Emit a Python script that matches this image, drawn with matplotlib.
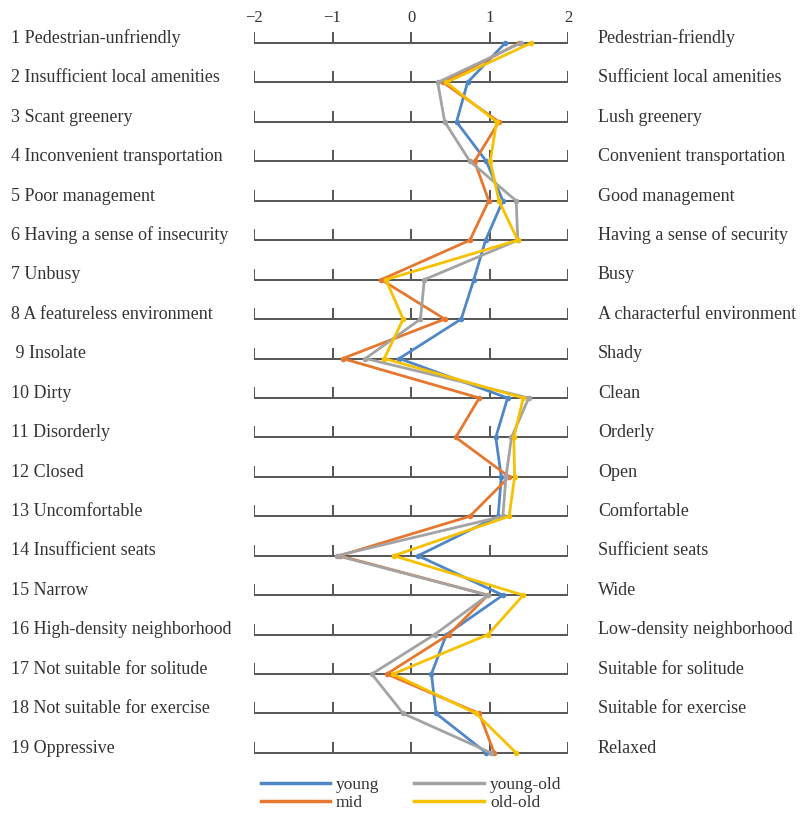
import matplotlib
matplotlib.use("Agg")
import matplotlib.pyplot as plt
from matplotlib.lines import Line2D
from matplotlib.transforms import blended_transform_factory

left_labels = [
    "1 Pedestrian-unfriendly", "2 Insufficient local amenities", "3 Scant greenery",
    "4 Inconvenient transportation", "5 Poor management", "6 Having a sense of insecurity",
    "7 Unbusy", "8 A featureless environment", " 9 Insolate", "10 Dirty",
    "11 Disorderly", "12 Closed", "13 Uncomfortable", "14 Insufficient seats",
    "15 Narrow", "16 High-density neighborhood", "17 Not suitable for solitude",
    "18 Not suitable for exercise", "19 Oppressive",
]
right_labels = [
    "Pedestrian-friendly", "Sufficient local amenities", "Lush greenery",
    "Convenient transportation", "Good management", "Having a sense of security",
    "Busy", "A characterful environment", "Shady", "Clean", "Orderly", "Open",
    "Comfortable", "Sufficient seats", "Wide", "Low-density neighborhood",
    "Suitable for solitude", "Suitable for exercise", "Relaxed",
]

young = [1.20, 0.72, 0.58, 0.96, 1.17, 0.95, 0.80, 0.64, -0.15, 1.23,
         1.08, 1.15, 1.11, 0.09, 1.17, 0.45, 0.26, 0.32, 0.96]
mid = [1.38, 0.41, 1.12, 0.81, 0.99, 0.75, -0.38, 0.43, -0.87, 0.87,
       0.57, 1.25, 0.75, -0.91, 0.98, 0.48, -0.31, 0.87, 1.06]
young_old = [1.40, 0.34, 0.43, 0.75, 1.34, 1.36, 0.17, 0.12, -0.58, 1.50,
             1.28, 1.21, 1.17, -0.94, 0.98, 0.30, -0.50, -0.10, 1.02]
old_old = [1.53, 0.45, 1.09, 1.01, 1.12, 1.36, -0.32, -0.10, -0.34, 1.43,
           1.31, 1.32, 1.25, -0.22, 1.43, 0.98, -0.23, 0.83, 1.34]

series = [
    ("young", young, "#4F87C6"),
    ("mid", mid, "#E5772E"),
    ("young-old", young_old, "#A3A3A3"),
    ("old-old", old_old, "#F6C100"),
]
ticks = [-2, -1, 0, 1, 2]
tick_labels = ["\u22122", "\u22121", "0", "1", "2"]

W, H = 808, 815
fig = plt.figure(figsize=(W / 100, H / 100), dpi=100)
plt.rcParams["font.family"] = ["Liberation Serif", "DejaVu Serif"]
text_col = "#333333"

n = len(left_labels)
row0, step = 43, 39.44
pad = 20 / step
top_px = row0 - 20
bot_px = row0 + step * (n - 1) + 20
x0_px, x1_px = 254, 568
ax = fig.add_axes([x0_px / W, 1 - bot_px / H, (x1_px - x0_px) / W, (bot_px - top_px) / H])
ax.set_xlim(-2, 2)
ax.set_ylim(n - 1 + pad, -pad)
for s in ax.spines.values():
    s.set_visible(False)
ax.set_yticks([])
ax.xaxis.tick_top()
ax.set_xticks(ticks)
ax.set_xticklabels(tick_labels, fontsize=12, color=text_col)
ax.tick_params(axis="x", length=0, pad=-2)

rows = list(range(n))
tick_h = 11 / step
ax.hlines(rows, -2, 2, color="#555555", lw=1.4, zorder=1)
for r in rows:
    ax.vlines(ticks, r - tick_h, r, color="#555555", lw=1.4, zorder=1)

for name, vals, col in series:
    ax.plot(vals, rows, color=col, lw=2, marker="o", ms=3, zorder=3)

trans_l = blended_transform_factory(fig.transFigure, ax.transData)
for r, (lt, rt) in enumerate(zip(left_labels, right_labels)):
    ax.text(11 / W, r - 0.12, lt, transform=trans_l, ha="left", va="center",
            fontsize=13, color=text_col)
    ax.text(598 / W, r - 0.12, rt, transform=trans_l, ha="left", va="center",
            fontsize=13, color=text_col)

handles = [Line2D([], [], color=c, lw=2.5) for _, _, c in series]
names = [s[0] for s in series]
fig.legend(handles, names, ncol=2, loc="center", bbox_to_anchor=(411 / W, 1 - 794 / H),
           frameon=False, fontsize=12.5, handlelength=4.0, columnspacing=2.0,
           labelspacing=0.15, handletextpad=0.35, labelcolor=text_col)

fig.savefig("out.png", dpi=100)
